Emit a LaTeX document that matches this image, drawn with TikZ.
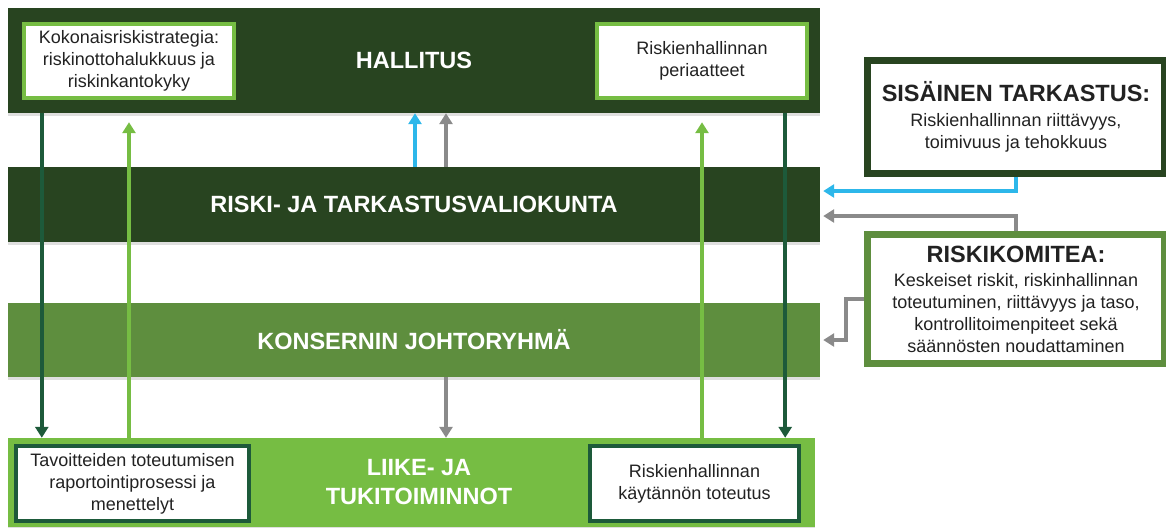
\documentclass[tikz,border=0pt]{standalone}
\usepackage{fontspec}
\setmainfont{Liberation Sans}
\usepackage{tikz}
\usetikzlibrary{positioning}
\usetikzlibrary{arrows.meta}
\usetikzlibrary{shadows}
\usepackage{xcolor}
\definecolor{boardgreen}{HTML}{284420}
\definecolor{midgreen}{HTML}{5E8E3E}
\definecolor{lightgreen}{HTML}{76BD43}
\definecolor{pinegreen}{HTML}{1D5A3A}
\definecolor{skyblue}{HTML}{2DB7EA}
\definecolor{arrowgray}{HTML}{8A8A8A}
\definecolor{textgray}{HTML}{222222}
\newcommand{\sidetitle}{\bfseries\fontsize{23.5}{28}\selectfont}

\begin{document}
\begin{tikzpicture}[x=1pt, y=-1pt,
levelnode/.style={rectangle, minimum width=812pt, inner sep=0pt, text=white, align=center, font=\bfseries\fontsize{23.5}{29}\selectfont, drop shadow={shadow xshift=0pt, shadow yshift=-3pt, opacity=.25}},
whitenode/.style={rectangle, fill=white, line width=4pt, inner sep=0pt, align=center, text=textgray, font=\fontsize{18}{22}\selectfont},
sidenode/.style={rectangle, fill=white, line width=7pt, inner sep=0pt, align=center, text=textgray, font=\fontsize{18}{21.7}\selectfont, drop shadow={shadow xshift=0pt, shadow yshift=-3pt, opacity=.25}},
downarrow/.style={draw=pinegreen, line width=3.5pt, -{Triangle[width=13pt,length=11pt]}},
uparrow/.style={draw=lightgreen, line width=3.5pt, -{Triangle[width=13pt,length=11pt]}},
bluearrow/.style={draw=skyblue, line width=3.5pt, -{Triangle[width=13pt,length=11pt]}},
grayarrow/.style={draw=arrowgray, line width=3.5pt, -{Triangle[width=13pt,length=11pt]}}]
\useasboundingbox (0,0) rectangle (1166,527);

\node[levelnode, fill=boardgreen, minimum height=105pt] (hallitus) at (414,60.5) {HALLITUS};
\node[levelnode, fill=boardgreen, minimum height=75pt] (valiokunta) at (414,204.5) {RISKI- JA TARKASTUSVALIOKUNTA};
\node[levelnode, fill=midgreen, minimum height=74pt] (johtoryhma) at (414,340) {KONSERNIN JOHTORYHMÄ};
\node[levelnode, fill=lightgreen, minimum width=807pt, minimum height=89pt] (liiketoiminnot) at (411.5,482.5) {\hspace*{15pt}LIIKE- JA\\\hspace*{15pt}TUKITOIMINNOT};

\node[whitenode, draw=lightgreen, minimum width=210pt, minimum height=74pt] (strategia) at (129,61) {Kokonaisriskistrategia:\\riskinottohalukkuus ja\\riskinkantokyky};
\node[whitenode, draw=lightgreen, minimum width=210pt, minimum height=74pt] (periaatteet) at (702,61) {Riskienhallinnan\\periaatteet};
\node[whitenode, draw=pinegreen, minimum width=233pt, minimum height=75pt] (raportointi) at (132.5,483.5) {Tavoitteiden toteutumisen\\raportointiprosessi ja\\menettelyt};
\node[whitenode, draw=pinegreen, minimum width=209pt, minimum height=75pt] (toteutus) at (694.5,483.5) {Riskienhallinnan\\käytännön toteutus};

\node[sidenode, draw=boardgreen, minimum width=297pt, minimum height=113pt] (sisainen) at (1016,117) {{\sidetitle SISÄINEN TARKASTUS:}\\[3pt]Riskienhallinnan riittävyys,\\toimivuus ja tehokkuus};
\node[sidenode, draw=midgreen, minimum width=297pt, minimum height=129pt] (riskikomitea) at (1016,299) {{\sidetitle RISKIKOMITEA:}\\[3pt]Keskeiset riskit, riskinhallinnan\\toteutuminen, riittävyys ja taso,\\kontrollitoimenpiteet sekä\\säännösten noudattaminen};

\coordinate (leftdrop) at ([xshift=34pt]hallitus.south west);
\coordinate (rightdrop) at ([xshift=-35pt]hallitus.south east);

\draw[downarrow] (leftdrop) -- (leftdrop |- liiketoiminnot.north);
\draw[downarrow] (rightdrop) -- (rightdrop |- liiketoiminnot.north);
\draw[uparrow] (strategia |- liiketoiminnot.north) -- ([yshift=-9pt]strategia |- hallitus.south);
\draw[uparrow] (periaatteet |- liiketoiminnot.north) -- ([yshift=-9pt]periaatteet |- hallitus.south);

\draw[bluearrow] ([xshift=1pt]valiokunta.north) -- ([xshift=1pt]hallitus.south);
\draw[grayarrow] ([xshift=32pt]valiokunta.north) -- ([xshift=32pt]hallitus.south);
\draw[grayarrow] ([xshift=32pt]johtoryhma.south) -- ([xshift=32pt]johtoryhma.south |- liiketoiminnot.north);

\draw[bluearrow] (sisainen.south) |- ([xshift=3pt,yshift=13.5pt]valiokunta.east);
\draw[grayarrow] (riskikomitea.north) |- ([xshift=3pt,yshift=-11.5pt]valiokunta.east);
\draw[grayarrow] (riskikomitea.west) -- ++(-18,0) |- ([xshift=3pt]johtoryhma.east);
\end{tikzpicture}
\end{document}
